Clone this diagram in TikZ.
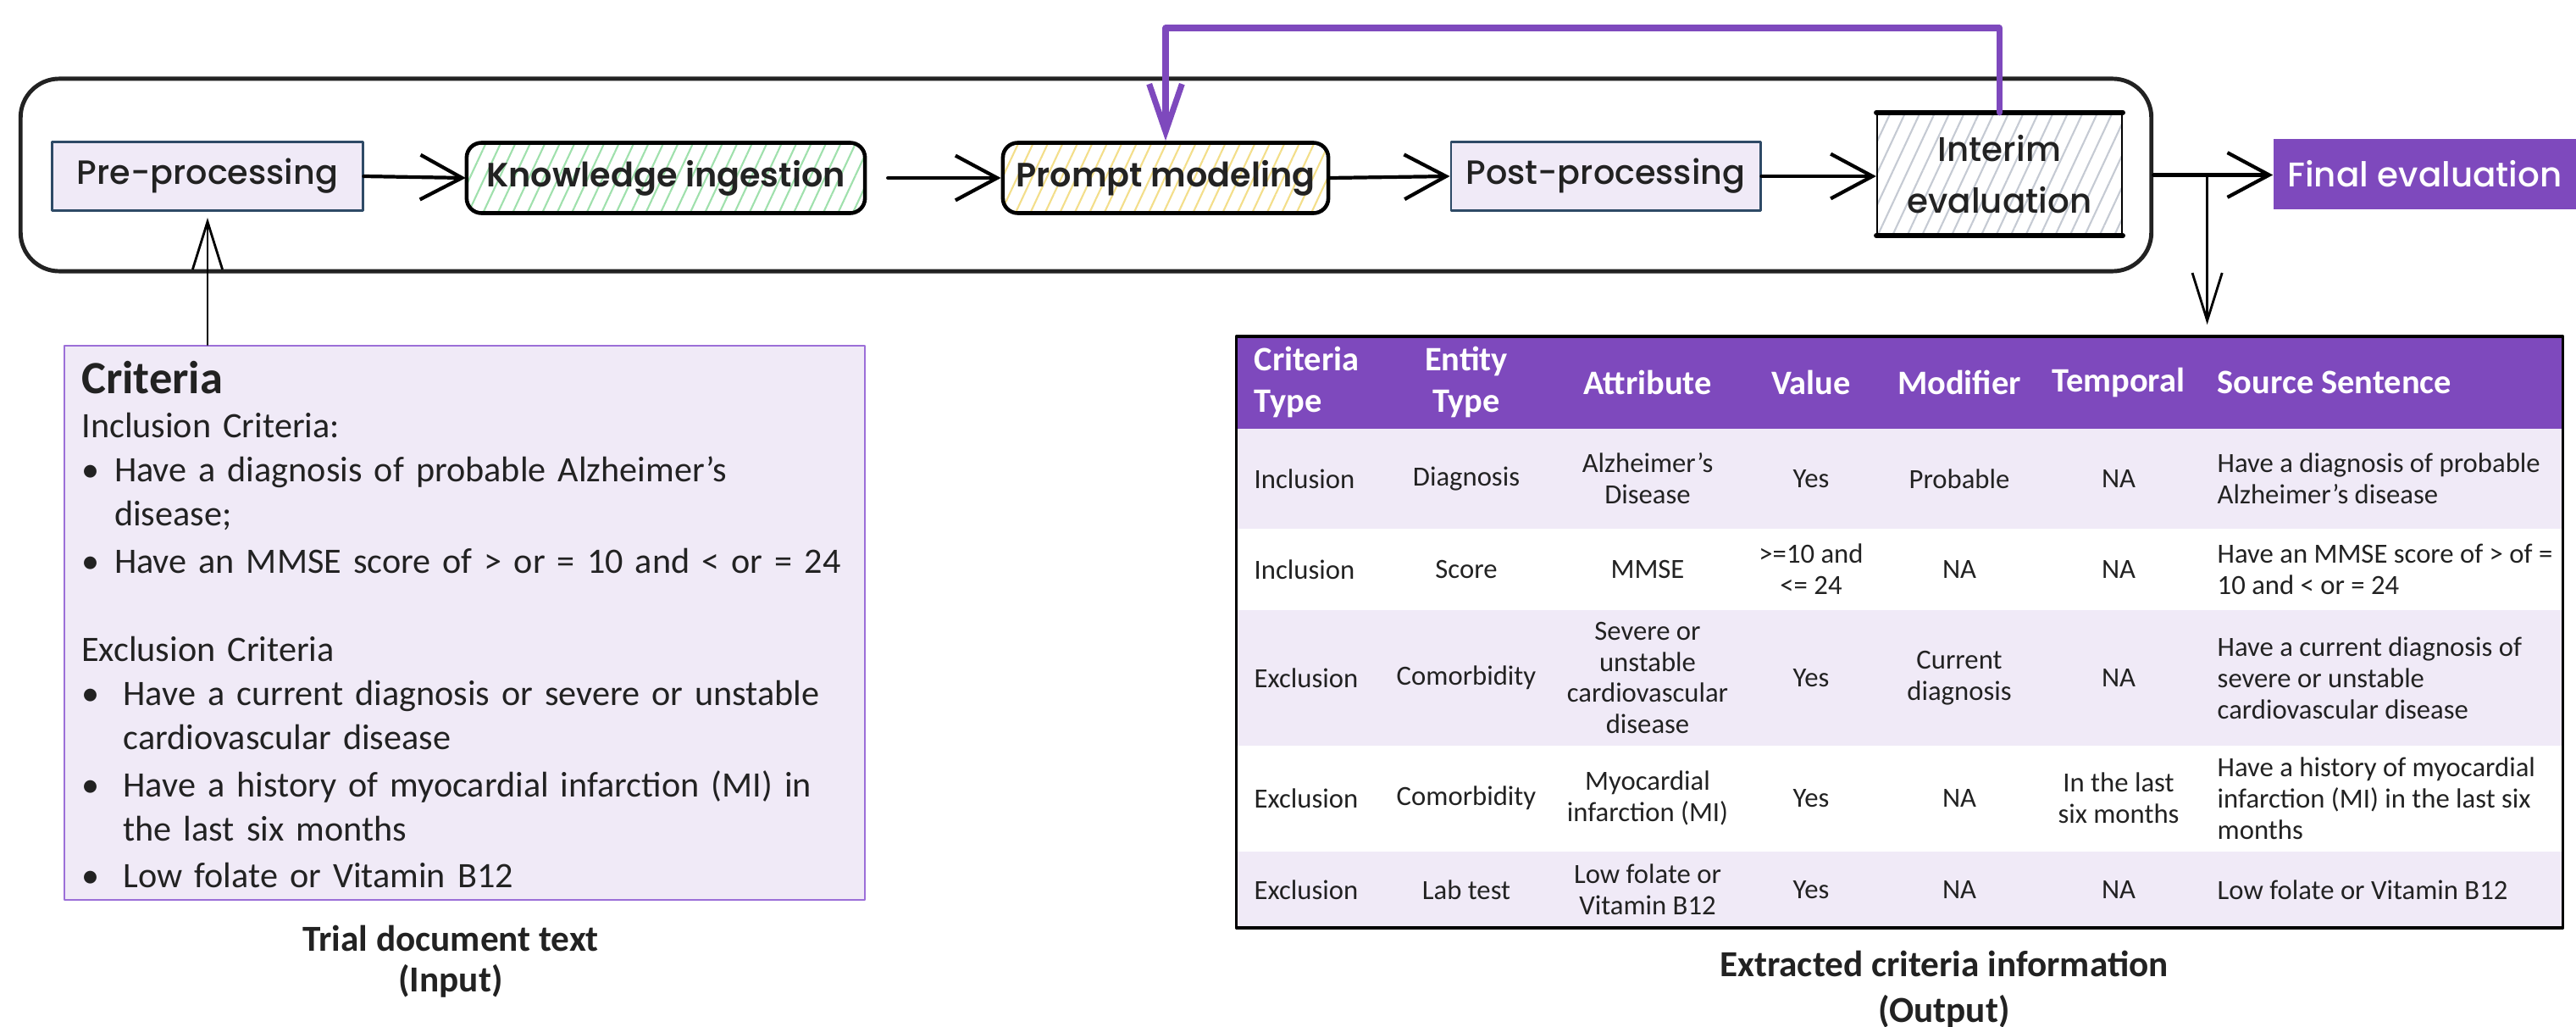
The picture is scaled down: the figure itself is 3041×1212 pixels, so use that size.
\documentclass[tikz,border=0pt]{standalone}
\usepackage{fontspec}
\setmainfont{Carlito}
\newfontfamily\pipefont{Poppins}
\IfFontExistsTF{Poppins SemiBold}{\newfontfamily\pipesemi{Poppins SemiBold}}{\newfontfamily\pipesemi{Poppins}}
\IfFontExistsTF{Poppins Medium}{\newfontfamily\pipemed{Poppins Medium}}{\newfontfamily\pipemed{Poppins}}
\usepackage{tikz}
\usetikzlibrary{arrows.meta,patterns.meta,calc}
\definecolor{vpurple}{HTML}{7E49BD}
\definecolor{lav}{HTML}{F0EAF7}
\definecolor{navy}{HTML}{2E4A66}
\definecolor{hgreen}{HTML}{9FE0AC}
\definecolor{hyellow}{HTML}{F3DE8A}
\definecolor{hgrey}{HTML}{C5CAD3}
\definecolor{critline}{HTML}{9C6FD8}
\definecolor{ink}{HTML}{222222}
\newcommand{\tblfont}{\fontsize{9.3}{10.5}\selectfont}
\newcommand{\tblhead}{\fontsize{11.5}{14}\selectfont\bfseries}
\newcommand{\critem}[2]{\par\noindent\makebox[#1][l]{\textbullet}\begin{tabular}[t]{@{}l@{}}#2\end{tabular}}
\tikzset{
  every picture/.style={line join=round, line cap=round},
  flow/.style={-{Straight Barb[length=14pt,width=15pt]}, line width=1.2pt},
  feed/.style={-{Straight Barb[length=16pt,width=10pt]}, line width=0.8pt},
  loopback/.style={-{Straight Barb[length=16pt,width=11pt]}, line width=2pt, draw=vpurple},
  pipebox/.style={draw=ink, line width=1.4pt, rounded corners=13pt, minimum width=25.14cm, minimum height=2.27cm},
  plainbox/.style={draw=navy, line width=0.8pt, fill=lav, text=ink, font=\pipemed\fontsize{11.3}{14}\selectfont},
  hatchbox/.style={draw=black, line width=1.3pt, rounded corners=5pt, text=ink,
    pattern={Lines[angle=65,distance=4.5pt,line width=0.6pt]}, font=\pipesemi\fontsize{11.3}{14}\selectfont},
  interimbox/.style={draw=black, line width=0.6pt, pattern={Lines[angle=65,distance=4.5pt,line width=0.6pt]},
    pattern color=hgrey, align=center, text=ink, font=\pipemed\fontsize{11.5}{17.4}\selectfont},
  finalbox/.style={fill=vpurple, text=white, font=\pipemed\fontsize{11.5}{14}\selectfont},
  critbox/.style={draw=critline, line width=0.6pt, fill=lav},
  crittext/.style={anchor=north west, inner sep=0pt, align=left, text width=9.3cm, text=ink, font=\fontsize{12}{14.8}\selectfont},
  cellC/.style={inner sep=0pt, align=center, text=ink, font=\tblfont},
  cellL/.style={cellC, align=left, anchor=west},
  headC/.style={inner sep=0pt, align=center, text=white, font=\tblhead},
  headL/.style={headC, align=left, anchor=west},
  captext/.style={align=center, text=ink, inner sep=0pt},
}

\begin{document}
\begin{tikzpicture}[x=0.01cm,y=-0.01cm]
\useasboundingbox (0,0) rectangle (3041,1212);

% pipeline
\node[pipebox] (pipe) at (1282,206.5) {};
\node[plainbox, minimum width=3.66cm, minimum height=0.81cm] (pre) at (245,208) {Pre-processing};
\node[hatchbox, pattern color=hgreen, minimum width=4.70cm, minimum height=0.83cm] (know) at (786,210) {Knowledge ingestion};
\node[hatchbox, pattern color=hyellow, minimum width=3.84cm, minimum height=0.83cm] (prompt) at (1376,210) {Prompt modeling};
\node[plainbox, minimum width=3.65cm, minimum height=0.81cm] (post) at (1895.5,208) {Post-processing};
\node[interimbox, minimum width=2.89cm, minimum height=1.43cm] (interim) at (2360.5,205.5) {Interim\\evaluation};
\draw[line width=1.6pt] (interim.north west) -- (interim.north east) (interim.south west) -- (interim.south east);
\node[finalbox, minimum width=3.57cm, minimum height=0.83cm] (final) at (2862.5,205.5) {Final evaluation};

\draw[flow] (pre.east) -- (know.west);
\draw[flow, shorten <=0.26cm] (know.east) -- (prompt.west);
\draw[flow] (prompt.east) -- (post.west);
\draw[flow] (post.east) -- (post.east -| interim.west);
\draw[flow] (pipe.east) -- (pipe.east -| final.west);

% feedback loop
\coordinate (fbtop) at (1391,33);
\draw[loopback] (interim.north) -- (interim.north |- fbtop) -| (prompt.north);

% input text
\node[critbox, minimum width=9.45cm, minimum height=6.54cm] (crit) at (548.5,735) {};
\node[crittext] (crittxt) at ([shift={(21,19)}]crit.north west) {%
{\fontsize{15.5}{18}\selectfont\bfseries Criteria}\par
Inclusion Criteria:
\critem{11pt}{Have a diagnosis of probable Alzheimer's\\disease;}
\critem{11pt}{Have an MMSE score of > or = 10 and < or = 24}\par
\vskip 14.8pt
\noindent Exclusion Criteria
\critem{14pt}{Have a current diagnosis or severe or unstable\\cardiovascular disease}
\critem{14pt}{Have a history of myocardial infarction (MI) in\\the last six months}
\critem{14pt}{Low folate or Vitamin B12}};
\draw[feed, shorten >=0.07cm] (pre.south |- crit.north) -- (pre.south);

\node[captext, font=\fontsize{12.3}{13.7}\selectfont\bfseries] (incap) at (532,1135) {Trial document text\\(Input)};

% output table
\foreach \ta/\tb/\tc in {397/506/vpurple,506/624/lav,624/720/white,720/880/lav,880/1005/white,1005/1095/lav}
  \fill[\tc] (1460,\ta) rectangle (3025,\tb);
\node[draw=black, line width=1pt, inner sep=0pt, minimum width=15.65cm, minimum height=6.98cm] (tab) at (2242.5,746) {};

\node[headL] (h1) at (1480,451) {Criteria\\Type};
\node[headC] (h2) at (1731,451) {Entity\\Type};
\node[headC] (h3) at (1945,451) {Attribute};
\node[headC] (h4) at (2138,451) {Value};
\node[headC] (h5) at (2313,451) {Modifier};
\node[headC] (h6) at (2501,451) {Temporal};
\node[headL] (h7) at (2617,451) {Source Sentence};

\foreach \yy/\ca/\cb/\cc/\cd/\ce/\cf/\cg [count=\r] in {
  565/Inclusion/Diagnosis/{Alzheimer's\\Disease}/Yes/Probable/NA/{Have a diagnosis of probable\\Alzheimer's disease},
  672/Inclusion/Score/MMSE/{>=10 and\\<= 24}/NA/NA/{Have an MMSE score of > of =\\10 and < or = 24},
  800/Exclusion/Comorbidity/{Severe or\\unstable\\cardiovascular\\disease}/Yes/{Current\\diagnosis}/NA/{Have a current diagnosis of\\severe or unstable\\cardiovascular disease},
  942/Exclusion/Comorbidity/{Myocardial\\infarction (MI)}/Yes/NA/{In the last\\six months}/{Have a history of myocardial\\infarction (MI) in the last six\\months},
  1050/Exclusion/Lab test/{Low folate or\\Vitamin B12}/Yes/NA/NA/{Low folate or Vitamin B12}}
{
  \node[cellL] (r\r c1) at (1480,\yy) {\ca};
  \node[cellC] (r\r c2) at (1731,\yy) {\cb};
  \node[cellC] (r\r c3) at (1945,\yy) {\cc};
  \node[cellC] (r\r c4) at (2138,\yy) {\cd};
  \node[cellC] (r\r c5) at (2313,\yy) {\ce};
  \node[cellC] (r\r c6) at (2501,\yy) {\cf};
  \node[cellL] (r\r c7) at (2617,\yy) {\cg};
}

\coordinate (split) at ($(pipe.east)!0.45!(final.west)$);
\draw[feed, shorten >=0.12cm] (split) -- (split |- tab.north);

\node[captext, font=\fontsize{12.3}{15.4}\selectfont\bfseries] (outcap) at (2295,1168) {Extracted criteria information\\(Output)};
\end{tikzpicture}
\end{document}
